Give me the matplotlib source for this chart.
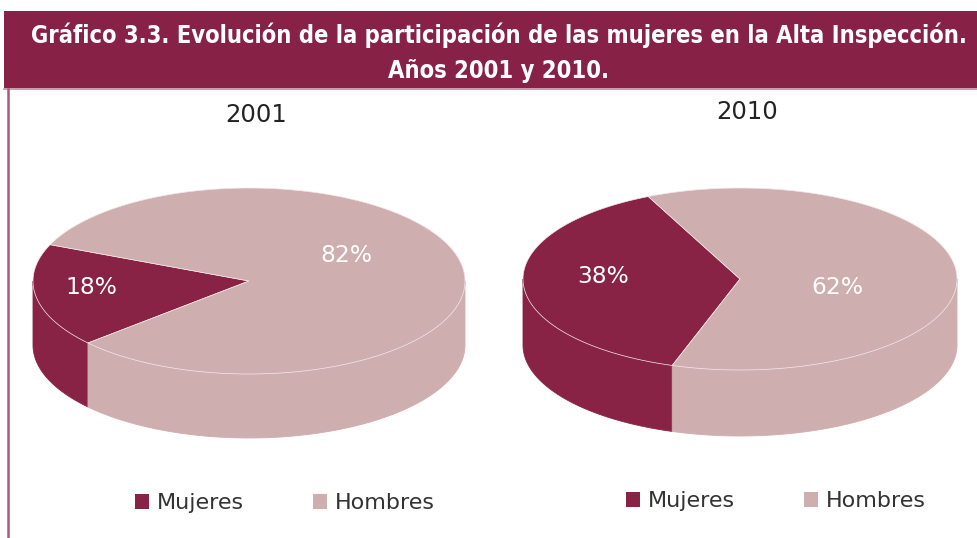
import numpy as np
import matplotlib.pyplot as plt
from matplotlib.patches import Polygon, Patch, Rectangle

# Participación de mujeres y hombres en la Alta Inspección
years = ['2001', '2010']
categories = ['Mujeres', 'Hombres']
shares = [[18, 82], [38, 62]]

title_lines = ['Gráfico 3.3. Evolución de la participación de las mujeres en la Alta Inspección.',
               'Años 2001 y 2010.']

colors = ['#892346', '#cfaeb0']
header = '#872246'

# layout of each 3D pie (pixels): centre, radii of the top ellipse, height
centres = [(249, 281), (740, 279)]
radii = [(216, 93), (217, 91)]
depths = [64, 66]
start_angles = [157, 115]      # where the Mujeres slice begins (ccw, degrees)
label_offsets = [[(-0.73, 0.07), (0.45, -0.27)],
                 [(-0.63, -0.03), (0.45, 0.09)]]

fig = plt.figure(figsize=(9.77, 5.38), dpi=100)
ax = fig.add_axes([0, 0, 1, 1])
ax.set_xlim(0, 977)
ax.set_ylim(538, 0)
ax.axis('off')

# title band and left rule
ax.add_patch(Rectangle((4, 11), 973, 77, color=header, lw=0))
ax.plot([4, 977], [88.5, 88.5], color='#c48aa0', lw=1.2)
ax.plot([7.5, 7.5], [89, 538], color='#a65a7a', lw=1.8)
for line, y in zip(title_lines, [43, 78]):
    ax.text(499, y, line, ha='center', va='baseline', color='white',
            fontsize=17, fontweight='bold', fontstretch='condensed')


def draw_pie(cx, cy, rx, ry, depth, values, start, offsets):
    fracs = np.array(values, dtype=float) / sum(values)
    edges = start + 360 * np.concatenate([[0], np.cumsum(fracs)])
    # visible side wall: front half of the cylinder (180..360 degrees)
    for i in range(len(values)):
        t0, t1 = edges[i], edges[i + 1]
        for k in range(-1, 2):
            lo = max(t0, 180 + 360 * k)
            hi = min(t1, 360 + 360 * k)
            if hi <= lo:
                continue
            t = np.radians(np.linspace(lo, hi, 120))
            x = cx + rx * np.cos(t)
            y = cy - ry * np.sin(t)
            pts = np.column_stack([np.r_[x, x[::-1]], np.r_[y, y[::-1] + depth]])
            ax.add_patch(Polygon(pts, closed=True, fc=colors[i], ec=colors[i], lw=0.6))
    # top faces
    for i in range(len(values)):
        t = np.radians(np.linspace(edges[i], edges[i + 1], 240))
        x = np.r_[cx, cx + rx * np.cos(t)]
        y = np.r_[cy, cy - ry * np.sin(t)]
        ax.add_patch(Polygon(np.column_stack([x, y]), closed=True,
                             fc=colors[i], ec='#f4e8ea', lw=0.5))
    for v, (dx, dy) in zip(values, offsets):
        ax.text(cx + dx * rx, cy + dy * ry, f'{v}%', ha='center', va='center',
                color='white', fontsize=16.8)


for j, year in enumerate(years):
    cx, cy = centres[j]
    rx, ry = radii[j]
    draw_pie(cx, cy, rx, ry, depths[j], shares[j], start_angles[j], label_offsets[j])
    ax.text(cx + 7, 115 - 3 * j, year, ha='center', va='center',
            color='#222222', fontsize=17.5)

    handles = [Patch(fc=c, ec='none') for c in colors]
    fig.legend(handles, categories, loc='center', ncol=2, frameon=False,
               bbox_to_anchor=((cx + 36) / 977, 1 - (503 - 2 * j) / 538),
               prop={'size': 16},
               handlelength=0.65, handleheight=0.65, handletextpad=0.35,
               columnspacing=3.1, labelcolor='#333333')

fig.savefig('out.png', dpi=100, facecolor='white')
